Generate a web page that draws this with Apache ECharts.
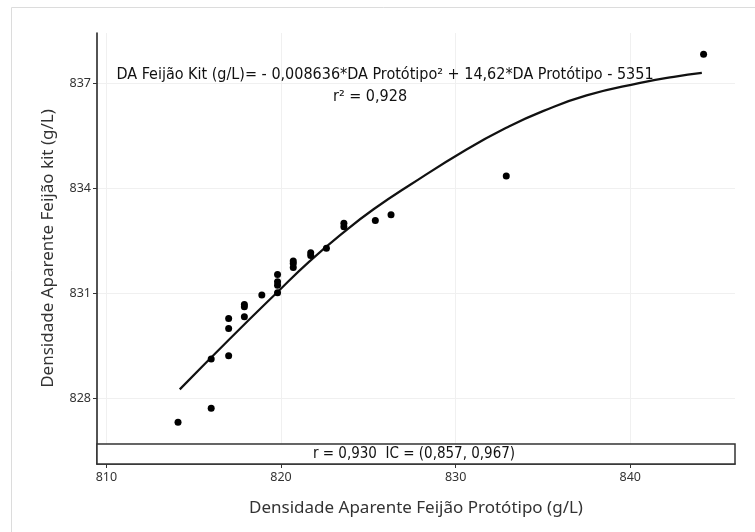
<!DOCTYPE html>
<html>
<head>
<meta charset="utf-8">
<script src="https://cdn.jsdelivr.net/npm/echarts@6/dist/echarts.min.js"></script>
<style>
  html, body { margin: 0; padding: 0; background: #fff; }
  #container { width: 755px; height: 532px; }
</style>
</head>
<body>
<div id="container"></div>
<script>
var protX = [814.1, 816.0, 816.0, 817.0, 817.0, 817.0, 817.9, 817.9, 817.9, 818.9,
             819.8, 819.8, 819.8, 819.8, 820.7, 820.7, 820.7, 821.7, 821.7, 822.6,
             823.6, 823.6, 825.4, 826.3, 832.9, 844.2];
var kitY  = [827.32, 827.72, 829.13, 829.22, 830.00, 830.28, 830.33, 830.62, 830.68, 830.95,
             831.02, 831.23, 831.33, 831.54, 831.74, 831.85, 831.92, 832.08, 832.16, 832.29,
             832.90, 833.00, 833.08, 833.24, 834.35, 837.82];

// fitted curve as drawn in the picture
var fitX = [814.2, 817.0, 819.8, 821.6, 823.6, 825.3, 827.4, 830.6, 833.0, 835.0, 837.5, 840.5, 842.5, 844.1];
var fitY = [828.26, 829.67, 831.04, 831.90, 832.75, 833.40, 834.10, 835.10, 835.75, 836.20, 836.65, 837.00, 837.18, 837.29];

// ticks
var xTicks = [810, 820, 830, 840];
var yTicks = [828, 831, 834, 837];

var eqText = 'DA Feijão Kit (g/L)= - 0,008636*DA Protótipo² + 14,62*DA Protótipo - 5351';
var r2Text = 'r² = 0,928';
var rText = 'r = 0,930  IC = (0,857, 0,967)';

var FONT = '"Segoe UI", "Noto Sans", sans-serif';
var NARROW = '"Liberation Sans Narrow", "DejaVu Sans Condensed", sans-serif';

var myChart = echarts.init(document.getElementById('container'));

var points = protX.map(function (x, i) { return [x, kitY[i]]; });
var curve = fitX.map(function (x, i) { return [x, fitY[i]]; });

var option = {
    backgroundColor: '#fff',
    animation: false,
    grid: { left: 97, top: 33, width: 638, height: 431 },
    xAxis: {
        type: 'value',
        min: 809.46,
        max: 846,
        name: 'Densidade Aparente Feijão Protótipo (g/L)',
        nameLocation: 'middle',
        nameGap: 36,
        nameTextStyle: { fontFamily: FONT, fontSize: 17, color: '#333' },
        axisLine: { show: true, onZero: false, lineStyle: { color: '#1a1a1a', width: 1.5 } },
        axisTick: { show: true, customValues: xTicks, length: 4, lineStyle: { color: '#333' } },
        axisLabel: { customValues: xTicks, fontFamily: FONT, fontSize: 12.5, color: '#333', margin: 7 },
        splitLine: { show: true, lineStyle: { color: '#f0f0f0', width: 1 } }
    },
    yAxis: {
        type: 'value',
        min: 826.13,
        max: 838.43,
        name: 'Densidade Aparente Feijão kit (g/L)',
        nameLocation: 'middle',
        nameGap: 40,
        nameTextStyle: { fontFamily: FONT, fontSize: 17, color: '#333' },
        axisLine: { show: true, onZero: false, lineStyle: { color: '#1a1a1a', width: 1.5 } },
        axisTick: { show: true, customValues: yTicks, length: 4, lineStyle: { color: '#333' } },
        axisLabel: { customValues: yTicks, fontFamily: FONT, fontSize: 12.5, color: '#333', margin: 6 },
        splitLine: { show: true, lineStyle: { color: '#f0f0f0', width: 1 } }
    },
    series: [
        {
            name: 'ajuste',
            type: 'line',
            data: curve,
            smooth: true,
            showSymbol: false,
            lineStyle: { color: '#111', width: 2.2 },
            z: 3
        },
        {
            name: 'dados',
            type: 'scatter',
            data: points,
            symbol: 'circle',
            symbolSize: 7,
            itemStyle: { color: '#000', opacity: 1 },
            z: 4
        }
    ],
    graphic: [
        {
            type: 'rect',
            shape: { x: 11.5, y: 7.5, width: 800, height: 600 },
            style: { fill: 'none', stroke: '#dcdcdc', lineWidth: 1 },
            silent: true,
            z: 0
        },
        {
            type: 'rect',
            shape: { x: 97, y: 444, width: 638, height: 20 },
            style: { fill: '#fff', stroke: '#333', lineWidth: 1.5 },
            z: 10
        },
        {
            type: 'text',
            x: 414, y: 454,
            style: { text: rText, fill: '#111', font: '15px ' + NARROW, align: 'center', verticalAlign: 'middle' },
            z: 11
        },
        {
            type: 'text',
            x: 385, y: 75,
            style: { text: eqText, fill: '#111', font: '16px ' + NARROW, align: 'center', verticalAlign: 'middle' },
            z: 11
        },
        {
            type: 'text',
            x: 370, y: 97,
            style: { text: r2Text, fill: '#111', font: '16px ' + NARROW, align: 'center', verticalAlign: 'middle' },
            z: 11
        }
    ]
};

myChart.setOption(option);
</script>
</body>
</html>
